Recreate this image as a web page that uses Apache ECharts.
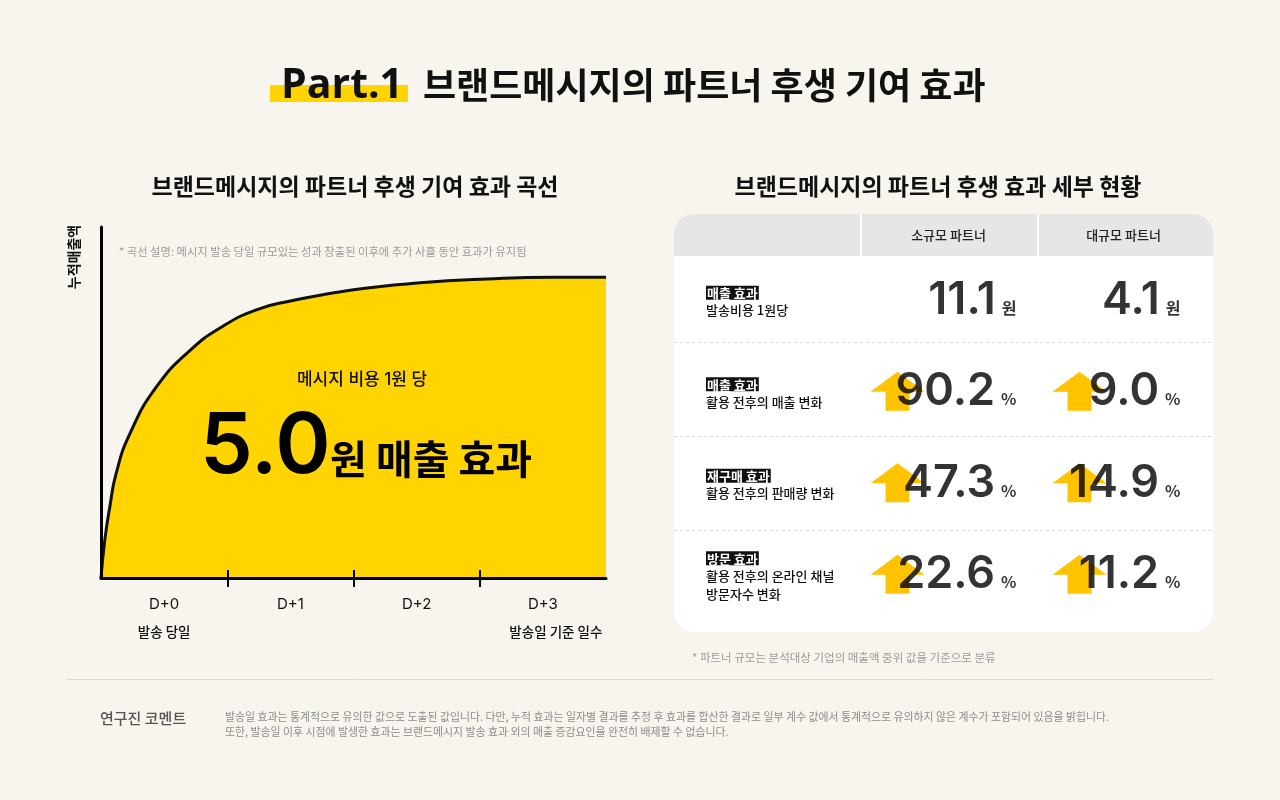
<!DOCTYPE html>
<html><head><meta charset="utf-8">
<script src="https://cdn.jsdelivr.net/npm/echarts@6/dist/echarts.min.js"></script>
<style>html,body{margin:0;padding:0;background:#f8f5ef}#c{width:1280px;height:800px}</style>
</head><body><div id="c"></div>
<script>
// ---- Curve data (days since send, cumulative revenue index) ----
const curveDays = [0, 0.03, 0.07, 0.12, 0.23, 0.44, 0.71, 0.96, 1.23, 1.50, 2.00, 2.53, 3.06, 3.58, 4.00];
const curveValues = [0, 10.8, 20.3, 29.8, 41.2, 54.5, 65.0, 71.6, 76.4, 78.9, 82.1, 84.1, 85.2, 85.7, 85.7];
const dayLabels = ['D+0', 'D+1', 'D+2', 'D+3'];
const daySubLabels = ['발송 당일', '', '', '발송일 기준 일수'];
const dayTickValues = [1, 2, 3];
const dayLabelValues = [0.5, 1.5, 2.5, 3.5];
const revenuePerWon = 5.0;

// ---- Table data ----
const partnerGroups = ['소규모 파트너', '대규모 파트너'];
const rowTags = ['매출 효과', '매출 효과', '재구매 효과', '방문 효과'];
const rowDescs = [['발송비용 1원당'], ['활용 전후의 매출 변화'], ['활용 전후의 판매량 변화'], ['활용 전후의 온라인 채널', '방문자수 변화']];
const rowUnits = ['원', '%', '%', '%'];
const smallPartnerValues = [11.1, 90.2, 47.3, 22.6];
const largePartnerValues = [4.1, 9.0, 14.9, 11.2];

const KR = '"Noto Sans CJK KR", "Noto Sans", sans-serif';
const NUM = 'Inter, "Noto Sans CJK KR", sans-serif';
const YELLOW = '#FFD400';
const ARROW_YELLOW = '#FFC300';
const ARROW = 'path://M27,0 L54,20 L39,20 L39,39 L15,39 L15,20 L0,20 Z';

const chart = echarts.init(document.getElementById('c'), null, {renderer: 'canvas'});

function valueSeries(name, values, labelDx) {
  return {
    type: 'scatter', name: name, xAxisIndex: 2, yAxisIndex: 1, z: 6, silent: true,
    data: values.map((v, i) => [partnerGroups.indexOf(name), i, v]),
    symbol: 'circle', symbolSize: 1, itemStyle: {color: 'rgba(0,0,0,0)'},
    label: {
      show: true, position: 'inside', align: 'right', verticalAlign: 'middle', offset: [labelDx, -2],
      formatter: p => '{n|' + p.value[2].toFixed(1) + '}{u|' + rowUnits[p.dataIndex] + '}',
      rich: {
        n: {fontFamily: NUM, fontSize: 45, fontWeight: 600, color: '#000', lineHeight: 46, verticalAlign: 'bottom'},
        u: {fontFamily: KR, fontSize: 16, fontWeight: 'bold', color: '#000', lineHeight: 18, verticalAlign: 'bottom', padding: [0, 0, 7, 6]}
      }
    }
  };
}
function arrowSeries(name, values, dx) {
  return {
    type: 'scatter', name: name + ' 증가', xAxisIndex: 2, yAxisIndex: 1, z: 4, silent: true,
    data: values.map((v, i) => [partnerGroups.indexOf(name), i, v]),
    symbol: (val, p) => rowUnits[p.dataIndex] === '%' ? ARROW : 'none',
    symbolSize: [54, 39], symbolOffset: [dx, -2],
    itemStyle: {color: ARROW_YELLOW, opacity: 1}
  };
}

const option = {
  backgroundColor: '#f8f5ef',
  animation: false,
  textStyle: {fontFamily: KR},
  grid: [
    {left: 101, top: 227, width: 505, height: 351},
    {left: 861, top: 256, width: 350, height: 366}
  ],
  xAxis: [
    {gridIndex: 0, type: 'value', min: 0, max: 4, z: 10,
      axisLine: {show: true, onZero: true, lineStyle: {color: '#000', width: 3}},
      axisTick: {show: true, customValues: dayTickValues, length: 9, lineStyle: {color: '#000', width: 2}},
      splitLine: {show: false},
      axisLabel: {
        customValues: dayLabelValues, margin: 13,
        formatter: (v) => {
          const i = dayLabelValues.indexOf(v);
          const subStyle = i === dayLabels.length - 1 ? 'e' : 's';
          return '{d|' + dayLabels[i] + '}' + (daySubLabels[i] ? '\n{' + subStyle + '|' + daySubLabels[i] + '}' : '');
        },
        rich: {
          d: {fontFamily: NUM, fontSize: 15, color: '#111', lineHeight: 27},
          s: {fontFamily: KR, fontSize: 13.5, fontWeight: 500, color: '#111', lineHeight: 27},
          e: {fontFamily: KR, fontSize: 13.5, fontWeight: 500, color: '#111', lineHeight: 27, padding: [0, 0, 0, 26]}
        }
      }
    },
    {gridIndex: 0, type: 'value', min: 0, max: 4, position: 'bottom', z: 10,
      axisLine: {show: false},
      axisTick: {show: true, inside: true, customValues: dayTickValues, length: 8, lineStyle: {color: '#000', width: 2}},
      axisLabel: {show: false}, splitLine: {show: false}
    },
    {gridIndex: 1, type: 'category', position: 'top', data: partnerGroups,
      axisLine: {show: false}, axisTick: {show: false}, splitLine: {show: false},
      axisLabel: {fontFamily: KR, fontSize: 13, fontWeight: 500, color: '#222', margin: 21, verticalAlign: 'middle'}
    }
  ],
  yAxis: [
    {gridIndex: 0, type: 'value', min: 0, max: 100, z: 10,
      axisLine: {show: true, lineStyle: {color: '#000', width: 3}},
      axisTick: {show: false}, axisLabel: {show: false}, splitLine: {show: false}
    },
    {gridIndex: 1, type: 'category', inverse: true,
      data: rowTags.map((t, i) => t + ' ' + rowDescs[i].join(' ')),
      axisLine: {show: false}, axisTick: {show: false}, splitLine: {show: false},
      axisLabel: {
        align: 'left', margin: 155,
        formatter: (v, i) => '{t|' + rowTags[i] + '}\n' + rowDescs[i].map(s => '{s|' + s + '}').join('\n'),
        rich: {
          t: {fontFamily: KR, fontSize: 13, fontWeight: 'bold', color: '#fff', backgroundColor: '#111', padding: [1, 1, 0, 1], lineHeight: 17},
          s: {fontFamily: KR, fontSize: 13, fontWeight: 500, color: '#111', lineHeight: 18}
        }
      }
    }
  ],
  series: [
    {type: 'line', name: '누적매출액', xAxisIndex: 0, yAxisIndex: 0, z: 2, silent: true,
      data: curveDays.map((d, i) => [d, curveValues[i]]),
      smooth: 0.5, symbol: 'none',
      lineStyle: {color: '#111', width: 3},
      areaStyle: {color: YELLOW, opacity: 1}
    },
    arrowSeries(partnerGroups[0], smallPartnerValues, -51),
    arrowSeries(partnerGroups[1], largePartnerValues, -44),
    valueSeries(partnerGroups[0], smallPartnerValues, 68),
    valueSeries(partnerGroups[1], largePartnerValues, 57)
  ],
  graphic: [
    // title
    {type: 'rect', z: 1, shape: {x: 270, y: 85, width: 138, height: 17}, style: {fill: YELLOW}},
    {type: 'text', z: 100, x: 281, y: 86, style: {text: 'Part.1', fontFamily: '"Open Sans", sans-serif', fontWeight: 'bold', fontSize: 41, fill: '#111', verticalAlign: 'middle', align: 'left'}},
    {type: 'text', z: 100, x: 423, y: 85, style: {text: '브랜드메시지의 파트너 후생 기여 효과', fontFamily: KR, fontWeight: 'bold', fontSize: 36, fill: '#111', verticalAlign: 'middle', align: 'left'}},
    // subtitles
    {type: 'text', z: 100, x: 355, y: 186, style: {text: '브랜드메시지의 파트너 후생 기여 효과 곡선', fontFamily: KR, fontWeight: 'bold', fontSize: 23, fill: '#111', verticalAlign: 'middle', align: 'center'}},
    {type: 'text', z: 100, x: 938, y: 186, style: {text: '브랜드메시지의 파트너 후생 효과 세부 현황', fontFamily: KR, fontWeight: 'bold', fontSize: 23, fill: '#111', verticalAlign: 'middle', align: 'center'}},
    // chart annotations
    {type: 'text', z: 100, x: 74, y: 257, rotation: Math.PI / 2, style: {text: '누적매출액', fontFamily: KR, fontWeight: 'bold', fontSize: 14, fill: '#111', verticalAlign: 'middle', align: 'center'}},
    {type: 'text', z: 100, x: 119, y: 252, style: {text: '* 곡선 설명: 메시지 발송 당일 규모있는 성과 창출된 이후에 추가 사흘 동안 효과가 유지됨', fontFamily: KR, fontSize: 11.3, fill: '#9b9b9b', verticalAlign: 'middle', align: 'left'}},
    {type: 'text', z: 100, x: 362, y: 380, style: {text: '메시지 비용 1원 당', fontFamily: NUM, fontWeight: 500, fontSize: 17, fill: '#111', verticalAlign: 'middle', align: 'center'}},
    {type: 'text', z: 100, x: 200, y: 448, style: {text: revenuePerWon.toFixed(1), fontFamily: NUM, fontWeight: 600, fontSize: 84, fill: '#000', verticalAlign: 'middle', align: 'left'}},
    {type: 'text', z: 100, x: 330, y: 459, style: {text: '원 매출 효과', fontFamily: KR, fontWeight: 'bold', fontSize: 40, fill: '#000', verticalAlign: 'middle', align: 'left'}},
    // table card
    {type: 'rect', z: -10, shape: {x: 674, y: 214, width: 539, height: 418, r: 20}, style: {fill: '#ffffff'}},
    {type: 'rect', z: -9, shape: {x: 674, y: 214, width: 539, height: 42, r: [20, 20, 0, 0]}, style: {fill: '#e6e6e6'}},
    {type: 'line', z: -8, shape: {x1: 861, y1: 214, x2: 861, y2: 256}, style: {stroke: '#ffffff', lineWidth: 2}},
    {type: 'line', z: -8, shape: {x1: 1038, y1: 214, x2: 1038, y2: 256}, style: {stroke: '#ffffff', lineWidth: 2}},
    {type: 'line', z: -8, shape: {x1: 674, y1: 342.5, x2: 1213, y2: 342.5}, style: {stroke: '#d8d8d8', lineWidth: 1, lineDash: [3, 3]}},
    {type: 'line', z: -8, shape: {x1: 674, y1: 436.5, x2: 1213, y2: 436.5}, style: {stroke: '#d8d8d8', lineWidth: 1, lineDash: [3, 3]}},
    {type: 'line', z: -8, shape: {x1: 674, y1: 530.5, x2: 1213, y2: 530.5}, style: {stroke: '#d8d8d8', lineWidth: 1, lineDash: [3, 3]}},
    {type: 'text', z: 100, x: 692, y: 658, style: {text: '* 파트너 규모는 분석대상 기업의 매출액 중위 값을 기준으로 분류', fontFamily: KR, fontSize: 11.5, fill: '#9b9b9b', verticalAlign: 'middle', align: 'left'}},
    // comment section
    {type: 'line', z: 1, shape: {x1: 67, y1: 679.5, x2: 1213, y2: 679.5}, style: {stroke: '#dcd9d3', lineWidth: 1}},
    {type: 'text', z: 100, x: 100, y: 718, style: {text: '연구진 코멘트', fontFamily: KR, fontWeight: 500, fontSize: 15, fill: '#555', verticalAlign: 'middle', align: 'left'}},
    {type: 'text', z: 100, x: 225, y: 724.5, style: {text: '발송일 효과는 통계적으로 유의한 값으로 도출된 값입니다. 다만, 누적 효과는 일자별 결과를 추정 후 효과를 합산한 결과로 일부 계수 값에서 통계적으로 유의하지 않은 계수가 포함되어 있음을 밝힙니다.\n또한, 발송일 이후 시점에 발생한 효과는 브랜드메시지 발송 효과 외의 매출 증감요인을 완전히 배제할 수 없습니다.', fontFamily: KR, fontSize: 10.9, lineHeight: 15, fill: '#8c8c8c', verticalAlign: 'middle', align: 'left'}}
  ]
};
chart.setOption(option);
</script>
</body></html>
